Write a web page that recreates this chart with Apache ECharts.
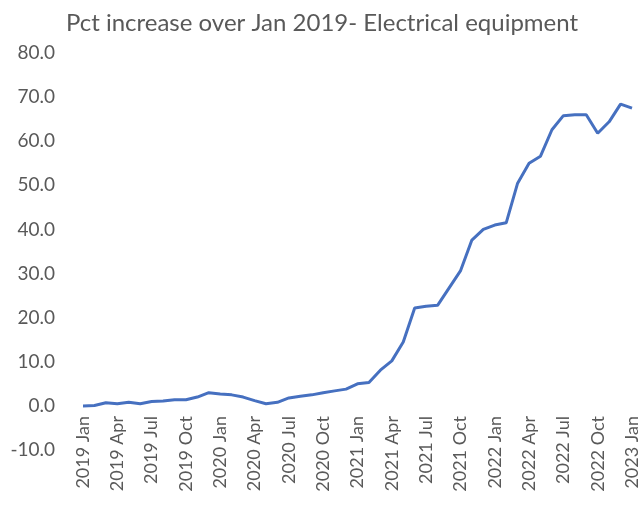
<!DOCTYPE html>
<html>
<head>
<meta charset="utf-8">
<script src="https://cdn.jsdelivr.net/npm/echarts@6/dist/echarts.min.js"></script>
<style>
  html, body { margin: 0; padding: 0; background: #fff; }
  #chart { width: 644px; height: 509px; }
</style>
</head>
<body>
<div id="chart"></div>
<script>
// months Jan 2019 .. Jan 2023
const years = [2019, 2020, 2021, 2022, 2023];
const monthNames = ["Jan", "Feb", "Mar", "Apr", "May", "Jun", "Jul", "Aug", "Sep", "Oct", "Nov", "Dec"];
const categories = [];
years.forEach(function (y) {
  monthNames.forEach(function (m) {
    if (y < 2023 || m === "Jan") categories.push(y + " " + m);
  });
});

// pct increase over Jan 2019
const pct2019 = [0.0, 0.1, 0.7, 0.5, 0.8, 0.5, 1.0, 1.1, 1.4, 1.4, 2.0, 3.0];
const pct2020 = [2.7, 2.5, 2.0, 1.2, 0.5, 0.8, 1.8, 2.2, 2.5, 3.0, 3.4, 3.8];
const pct2021 = [5.0, 5.3, 8.1, 10.2, 14.5, 22.2, 22.6, 22.8, 26.7, 30.6, 37.6, 40.0];
const pct2022 = [41.0, 41.5, 50.5, 55.0, 56.6, 62.6, 65.8, 66.0, 66.0, 61.8, 64.4, 68.4];
const pct2023 = [67.5];
const values = pct2019.concat(pct2020, pct2021, pct2022, pct2023);

const yTicks = [-10, 0, 10, 20, 30, 40, 50, 60, 70, 80];

let myChart = echarts.init(document.getElementById("chart"));
const textColor = "#595959";
const font = "Lato";

let option = {
  backgroundColor: "#fff",
  title: {
    text: "Pct increase over Jan 2019- Electrical equipment",
    left: "center",
    top: 6,
    textStyle: {
      fontFamily: font,
      fontSize: 24,
      fontWeight: "normal",
      color: textColor,
    },
  },
  grid: {
    left: 83,
    right: 12,
    top: 53,
    bottom: 59,
    containLabel: false,
    outerBoundsMode: "none",
  },
  xAxis: {
    type: "category",
    boundaryGap: false,
    data: categories,
    // labels sit at the zero line, one y step above the grid bottom
    offset: -44,
    axisLine: { show: false },
    axisTick: { show: false },
    splitLine: { show: false },
    axisLabel: {
      interval: 2,
      rotate: 90,
      margin: 10,
      fontFamily: font,
      fontSize: 18,
      color: textColor,
    },
  },
  yAxis: {
    type: "value",
    min: yTicks[0],
    max: yTicks[yTicks.length - 1],
    interval: 10,
    axisLine: { show: false },
    axisTick: { show: false },
    splitLine: { show: false },
    axisLabel: {
      margin: 28,
      fontFamily: font,
      fontSize: 19,
      color: textColor,
      formatter: function (v) {
        return v.toFixed(1);
      },
    },
  },
  series: [
    {
      name: "Electrical equipment",
      type: "line",
      data: values,
      showSymbol: false,
      lineStyle: { color: "#4670c0", width: 3 },
      itemStyle: { color: "#4670c0" },
    },
  ],
};
option && myChart.setOption(option);
</script>
</body>
</html>
